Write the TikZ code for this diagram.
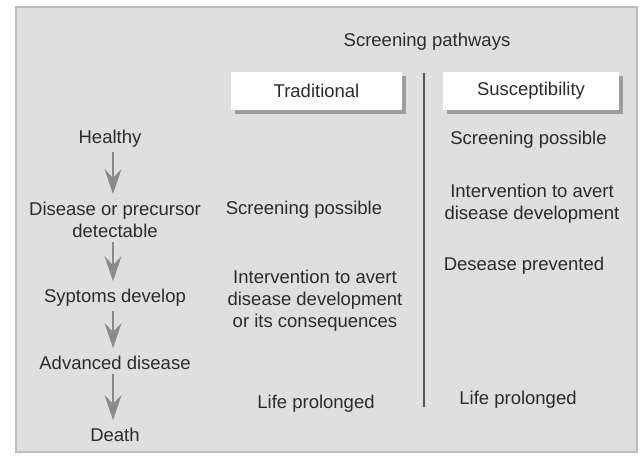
\documentclass[tikz,border=0pt]{standalone}
\usepackage{fontspec}
\setmainfont{Liberation Sans}
\usetikzlibrary{arrows.meta,shadows}
\definecolor{panel}{HTML}{DFDFDF}
\definecolor{panelline}{HTML}{BDBDBD}
\definecolor{txt}{HTML}{2B2B2B}
\definecolor{arr}{HTML}{8A8A8A}
\definecolor{vline}{HTML}{555555}
\definecolor{shadowc}{HTML}{9C9C9C}
\begin{document}
\begin{tikzpicture}[x=1pt,y=-1pt,
  lbl/.style={font=\fontsize{18.5}{22}\selectfont, text=txt, align=center, inner sep=0pt},
  flow/.style={draw=arr, line width=1.6pt, -{Stealth[length=25pt,width=17pt,inset=9pt]}, shorten <=4pt, shorten >=8pt},
  hdr/.style={fill=white, minimum height=38pt, inner sep=0pt, font=\fontsize{18.5}{22}\selectfont, text=txt,
    drop shadow={shadow xshift=4pt, shadow yshift=-4pt, fill=shadowc, opacity=1}},
  divider/.style={draw=vline, line width=2pt}]
\useasboundingbox (0,0) rectangle (640,462);
\fill[white] (0,0) rectangle (640,462);
\draw[fill=panel, draw=panelline, line width=1.2pt] (16,7) rectangle (637,452);

% title and headers
\node[lbl] (title) at (427,42) {Screening pathways};
\node[hdr, minimum width=171pt] (trad) at (316.5,91) {Traditional};
\node[hdr, minimum width=176pt] (susc) at (531,91) {Susceptibility};

% divider
\coordinate (vtop) at (424,73);
\coordinate (vbot) at (424,407);
\draw[divider] (vtop) -- (vbot);

% left column: disease course
\coordinate (ax) at (113,0);
\node[lbl] (healthy) at (110,139) {Healthy};
\node[lbl] (disease) at (115,220) {Disease or precursor\\detectable};
\node[lbl] (symptoms) at (115,298) {Syptoms develop};
\node[lbl] (advanced) at (115,363) {Advanced disease};
\node[lbl] (death) at (115,435) {Death};

\draw[flow] (healthy.south -| ax) -- (disease.north -| ax);
\draw[flow] (disease.south -| ax) -- (symptoms.north -| ax);
\draw[flow] (symptoms.south -| ax) -- (advanced.north -| ax);
\draw[flow] (advanced.south -| ax) -- (death.north -| ax);

% traditional column
\node[lbl] (screen1) at (304,210) {Screening possible};
\node[lbl] (interv1) at (315,301) {Intervention to avert\\disease development\\or its consequences};
\node[lbl] (life1) at (316,404) {Life prolonged};

% susceptibility column
\node[lbl] (screen2) at (528.5,140) {Screening possible};
\node[lbl] (interv2) at (532,204) {Intervention to avert\\disease development};
\node[lbl] (prevented) at (524,266) {Desease prevented};
\node[lbl] (life2) at (518,400) {Life prolonged};
\end{tikzpicture}
\end{document}
